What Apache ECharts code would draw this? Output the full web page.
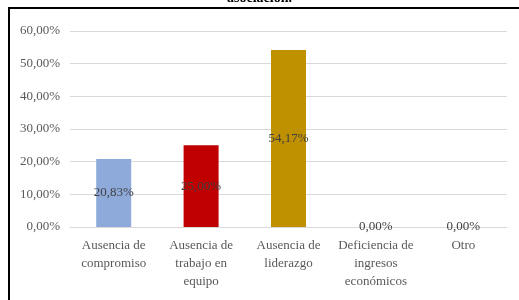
<!DOCTYPE html>
<html>
<head>
<meta charset="utf-8">
<script src="https://cdn.jsdelivr.net/npm/echarts@6/dist/echarts.min.js"></script>
<style>
  html, body { margin: 0; padding: 0; background: #fff; }
  #chart { width: 519px; height: 300px; }
</style>
</head>
<body>
<div id="chart"></div>
<script>
// datos del gráfico
const categorias = ['Ausencia de\ncompromiso', 'Ausencia de\ntrabajo en\nequipo', 'Ausencia de\nliderazgo', 'Deficiencia de\ningresos\neconómicos', 'Otro']
const porcentajes = [20.83, 25.00, 54.17, 0, 0]
const colores = ['#8eaadb', '#c00000', '#bf9000', '#8eaadb', '#8eaadb']
const ticksY = [0, 10, 20, 30, 40, 50, 60]

const fmt = v => v.toFixed(2).replace('.', ',') + '%'

const chart = echarts.init(document.getElementById('chart'))
const option = {
  animation: false,
  textStyle: { fontFamily: 'Liberation Serif' },
  graphic: [
    {
      type: 'text',
      left: 'center',
      top: -9,
      style: { text: 'asociación.', font: 'bold 14px "Liberation Serif"', fill: '#000' }
    },
    {
      type: 'polyline',
      shape: { points: [[9, 310], [9, 8], [519, 8]] },
      style: { stroke: '#000', lineWidth: 2, fill: null }
    }
  ],
  grid: { left: 70, right: 12, top: 31, bottom: 73 },
  xAxis: {
    type: 'category',
    data: categorias,
    axisTick: { show: false },
    axisLine: { lineStyle: { color: '#d9d9d9' } },
    axisLabel: { color: '#595959', fontSize: 13, lineHeight: 18, margin: 10, interval: 0 }
  },
  yAxis: {
    type: 'value',
    min: 0,
    max: 60,
    interval: 10,
    axisLine: { show: false },
    axisTick: { show: false },
    splitLine: { lineStyle: { color: '#d9d9d9' } },
    axisLabel: {
      color: '#595959',
      fontSize: 13,
      margin: 10,
      formatter: v => ticksY.includes(v) ? fmt(v) : ''
    }
  },
  series: [
    {
      type: 'bar',
      barWidth: 35,
      data: porcentajes.map((v, i) => ({ value: v, itemStyle: { color: colores[i] } })),
      label: {
        show: true,
        position: 'inside',
        color: '#404040',
        fontSize: 13,
        formatter: p => fmt(p.value)
      }
    }
  ]
}
chart.setOption(option)
</script>
</body>
</html>
